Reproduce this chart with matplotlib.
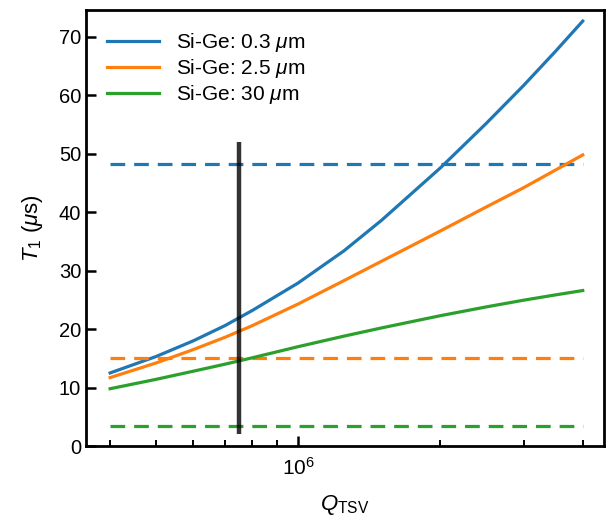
import matplotlib
matplotlib.use('Agg')
import matplotlib.pyplot as plt
from matplotlib.ticker import LogLocator, NullFormatter

plt.rcParams['font.family'] = ['Liberation Sans', 'DejaVu Sans']
plt.rcParams['mathtext.fontset'] = 'custom'
plt.rcParams['mathtext.rm'] = 'Liberation Sans'
plt.rcParams['mathtext.it'] = 'Liberation Sans:italic'
plt.rcParams['mathtext.bf'] = 'Liberation Sans:bold'

# quality factor of the TSV
q_tsv = [4e5, 5e5, 6e5, 7e5, 8e5, 1e6, 1.25e6, 1.5e6, 2e6, 2.5e6, 3e6, 3.5e6, 4e6]

# T1 (us) for each Si-Ge thickness
t1_03 = [12.5, 15.3, 18.0, 20.6, 23.2, 27.9, 33.4, 38.6, 47.6, 55.2, 61.7, 67.5, 72.7]
t1_25 = [11.7, 14.2, 16.5, 18.6, 20.6, 24.3, 28.3, 31.6, 36.8, 40.9, 44.2, 47.2, 49.8]
t1_30 = [9.8, 11.4, 12.8, 14.0, 15.1, 17.0, 18.8, 20.2, 22.3, 23.8, 24.95, 25.85, 26.6]

# limits without TSV loss (dashed)
t1_limit = [48.2, 15.0, 3.5]

labels = ['Si-Ge: 0.3 $\\mu$m', 'Si-Ge: 2.5 $\\mu$m', 'Si-Ge: 30 $\\mu$m']
colors = ['tab:blue', 'tab:orange', 'tab:green']

q_marker = 7.5e5
marker_span = [2.0, 52.0]

fig = plt.figure(figsize=(6.13, 5.25), dpi=100)
ax = fig.add_axes([86/613, 79/525, (603.5-86)/613, (446-10)/525])

for ys, lim, lab, c in zip([t1_03, t1_25, t1_30], t1_limit, labels, colors):
    ax.plot(q_tsv, ys, color=c, lw=2.3, label=lab)
    ax.plot([q_tsv[0], q_tsv[-1]], [lim, lim], color=c, lw=2.3,
            linestyle=(0, (4.6, 2.8)))

ax.plot([q_marker, q_marker], marker_span, color='black', alpha=0.8, lw=3.2,
        solid_capstyle='butt')

ax.set_xscale('log')
ax.set_xlim(10**5.551, 10**6.646)
ax.set_ylim(0, 74.6)
ax.set_yticks(range(0, 71, 10))
ax.xaxis.set_minor_locator(LogLocator(base=10, subs=range(2, 10)))
ax.xaxis.set_minor_formatter(NullFormatter())

ax.tick_params(which='major', direction='in', length=7, width=1.8, labelsize=14.5)
ax.tick_params(axis='x', which='major', pad=8, labelsize=15)
ax.tick_params(which='minor', direction='in', length=4, width=1.4)
for s in ax.spines.values():
    s.set_linewidth(2)

ax.set_xlabel('$Q_\\mathrm{TSV}$', fontsize=16, labelpad=10)
ax.set_ylabel('$T_1$ ($\\mu$s)', fontsize=16, labelpad=10)

ax.legend(loc='upper left', frameon=False, fontsize=15, handlelength=2.5,
          borderaxespad=0.6, labelspacing=0.15)

fig.savefig('out.png', dpi=100)
